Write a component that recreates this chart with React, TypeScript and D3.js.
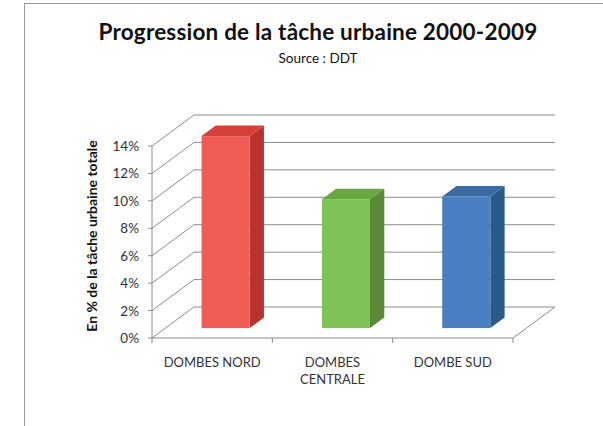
import React from 'react';
import { scaleLinear, scaleBand, range } from 'd3';

// data
const categories = ['DOMBES NORD', 'DOMBES CENTRALE', 'DOMBE SUD'];
const categoryLines = [['DOMBES NORD'], ['DOMBES', 'CENTRALE'], ['DOMBE SUD']];
const values = [14.0, 9.4, 9.6];
const tickValues = [0, 2, 4, 6, 8, 10, 12, 14];
const frontColors = ['#f15c57', '#7fc258', '#4a80c2'];
const sideColors = ['#b8332f', '#5a8a36', '#285a8c'];
const topColors = ['#d6403b', '#6aa743', '#3a6ba3'];

const W = 603;
const H = 426;
const font = 'Lato, "Open Sans", sans-serif';

// 3D box geometry
const depthX = 42;
const depthY = -31;
const barFront = 0.32;
const barBack = 0.66;

const App = () => {
  const y = scaleLinear().domain([0, 14]).range([338, 146]);
  const x = scaleBand().domain(categories).range([152, 513]).paddingInner(0).paddingOuter(0);
  const bw = x.bandwidth() * 0.4;

  const x0 = x.range()[0];
  const x1 = x.range()[1];

  return (
    <svg width={W} height={H} style={{ position: 'absolute', left: 0, top: 0, background: '#fff' }}>
      <rect x={24.5} y={3.5} width={W} height={H} fill="#fff" stroke="#9a9a9a" strokeWidth={1} />

      {/* title */}
      <text x={318} y={40} textAnchor="middle" fontFamily={font} fontWeight="bold" fontSize={22.5} letterSpacing={0.2} fill="#111">
        Progression de la tâche urbaine 2000-2009
      </text>
      <text x={318} y={63} textAnchor="middle" fontFamily={font} fontSize={13.5} fill="#111">
        Source : DDT
      </text>

      {/* walls */}
      <g stroke="#8c8c8c" strokeWidth={1} fill="none">
        {tickValues.map((t) => (
          <g key={t}>
            <line x1={x0} y1={y(t)} x2={x0 + depthX} y2={y(t) + depthY} />
            <line x1={x0 + depthX} y1={y(t) + depthY} x2={x1 + depthX} y2={y(t) + depthY} />
          </g>
        ))}
        <line x1={x0} y1={y(0)} x2={x1} y2={y(0)} />
        <line x1={x1} y1={y(0)} x2={x1 + depthX} y2={y(0) + depthY} />
        <line x1={x0} y1={y(0)} x2={x0} y2={y(14)} />
        {tickValues.map((t) => (
          <line key={'t' + t} x1={x0 - 4} y1={y(t)} x2={x0} y2={y(t)} />
        ))}
        {range(categories.length + 1).map((i) => {
          const xx = i < categories.length ? (x(categories[i]) as number) : x1;
          return <line key={'c' + i} x1={xx} y1={y(0)} x2={xx} y2={y(0) + 5} />;
        })}
      </g>

      {/* tick labels */}
      {tickValues.map((t) => (
        <text key={'l' + t} x={139} y={y(t) + 5} textAnchor="end" fontFamily={font} fontSize={13.5} fill="#333">
          {t}%
        </text>
      ))}

      {/* bars */}
      {categories.map((c, i) => {
        const cx = (x(c) as number) + x.bandwidth() / 2;
        const fx = cx - bw / 2 + depthX * barFront;
        const fy0 = y(0) + depthY * barFront;
        const fy1 = y(values[i]) + depthY * barFront;
        const ddx = depthX * (barBack - barFront);
        const ddy = depthY * (barBack - barFront);
        return (
          <g key={c}>
            <polygon
              points={`${fx + bw},${fy1} ${fx + bw + ddx},${fy1 + ddy} ${fx + bw + ddx},${fy0 + ddy} ${fx + bw},${fy0}`}
              fill={sideColors[i]}
            />
            <polygon
              points={`${fx},${fy1} ${fx + ddx},${fy1 + ddy} ${fx + bw + ddx},${fy1 + ddy} ${fx + bw},${fy1}`}
              fill={topColors[i]}
            />
            <rect x={fx} y={fy1} width={bw} height={fy0 - fy1} fill={frontColors[i]} />
          </g>
        );
      })}

      {/* category labels */}
      {categories.map((c, i) => {
        const cx = (x(c) as number) + x.bandwidth() / 2;
        return (
          <text key={'cl' + c} textAnchor="middle" fontFamily={font} fontSize={13} fill="#333">
            {categoryLines[i].map((ln, j) => (
              <tspan key={j} x={cx} y={367 + j * 17}>
                {ln}
              </tspan>
            ))}
          </text>
        );
      })}

      {/* y axis title */}
      <text
        transform="translate(97,236) rotate(-90)"
        textAnchor="middle"
        fontFamily={font}
        fontWeight="bold"
        fontSize={14}
        fill="#111"
      >
        En % de la tâche urbaine totale
      </text>
    </svg>
  );
};

export default App;
